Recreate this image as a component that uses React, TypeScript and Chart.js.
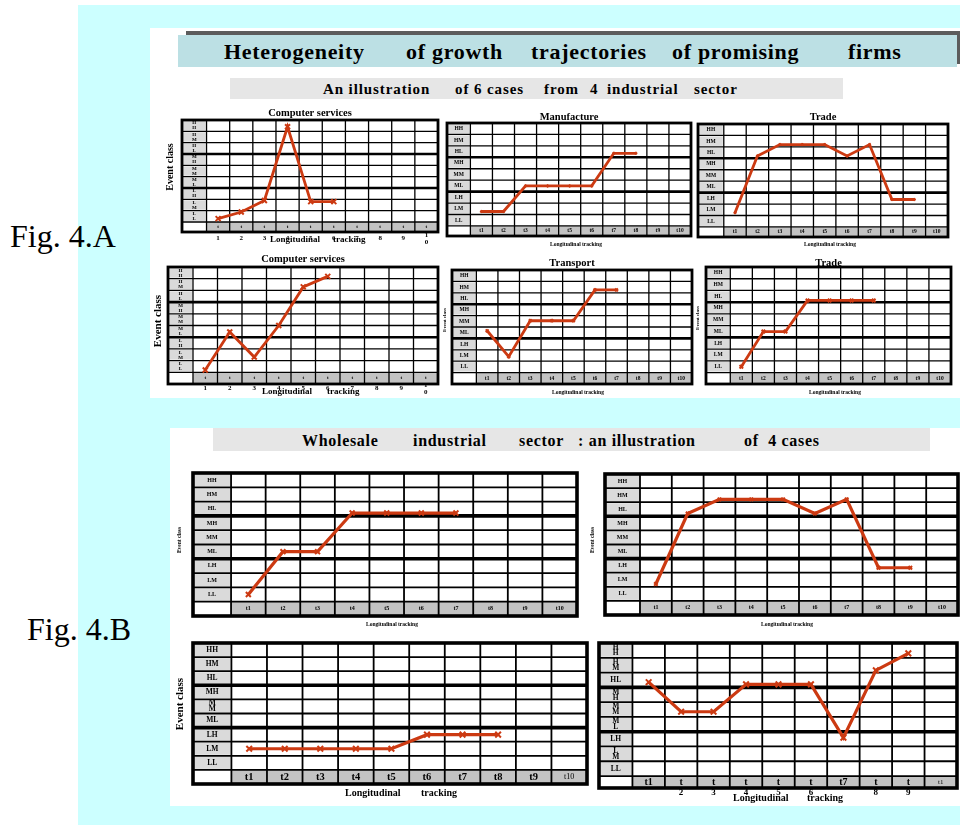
import React, { useEffect, useRef } from "react";
import { Chart, registerables } from "chart.js";
Chart.register(...registerables);

// ---------------- data ----------------
// y values: LL=1, LM=2, LH=3, ML=4, MM=5, MH=6, HL=7, HM=8, HH=9 ; x = t index
const ROW_LABELS = ["LL", "LM", "LH", "ML", "MM", "MH", "HL", "HM", "HH"];
const T_LABELS = ["t1", "t2", "t3", "t4", "t5", "t6", "t7", "t8", "t9", "t10"];
const T_DIGITS = ["1", "2", "3", "4", "5", "6", "7", "8", "9", "10"];

const COMPUTER_SERVICES_A = [0.8, 1.38, 2.4, 8.9, 2.3, 2.3];
const MANUFACTURE = [1.76, 1.76, 4, 4, 4, 4, 6.85, 6.85];
const TRADE_A = [1.74, 6.7, 7.7, 7.7, 7.7, 6.7, 7.7, 2.9, 2.9];
const COMPUTER_SERVICES_B = [0.7, 3.95, 1.8, 4.5, 7.8, 8.7];
const TRANSPORT = [4.17, 1.9, 5.05, 5.05, 5.05, 7.75, 7.75];
const TRADE_B = [1, 4, 4, 6.65, 6.65, 6.65, 6.65];
const WHOLESALE_1 = [1, 4, 4, 6.7, 6.7, 6.7, 6.7];
const WHOLESALE_2 = [1.7, 6.7, 7.7, 7.7, 7.7, 6.7, 7.7, 2.85, 2.85];
const WHOLESALE_3 = [2, 2, 2, 2, 2, 3, 3, 3];
const WHOLESALE_4 = [6.85, 4.85, 4.85, 6.7, 6.7, 6.7, 3.1, 7.65, 8.8];

// ---------------- styling / layout ----------------
const RED = "#cc3a12";
const SERIF = '"Liberation Serif", "Times New Roman", serif';
const M = { l: 34, t: 18, r: 14, b: 26 };

type TextItem = { text: string; x: number; y: number; size: number; bold?: boolean; rot?: boolean; align?: CanvasTextAlign };
type Spec = {
  key: string;
  title?: string;
  titleY?: number;
  values: number[];
  table: [number, number, number, number];
  labelRatio: number;
  bottomRatio: number;
  big: boolean;
  rowFont: number;
  stackGap?: number;
  stackRows: string[];
  colFont: number;
  splitCols: number[];
  digitY?: number;
  digitFont?: number;
  t10?: { text: string; size: number; bold: boolean };
  lineW: number;
  markR: number;
  texts: TextItem[];
};

const ALL_STACK = ROW_LABELS.slice();
const ALL_COLS = [1, 2, 3, 4, 5, 6, 7, 8, 9, 10];

const SPECS: Spec[] = [
  {
    key: "a1", title: "Computer services", titleY: 113, values: COMPUTER_SERVICES_A,
    table: [182, 120, 256, 112], labelRatio: 1.06, bottomRatio: 0.88, big: false,
    rowFont: 5, stackRows: ALL_STACK, colFont: 5, splitCols: ALL_COLS, digitY: 238, digitFont: 7,
    lineW: 2.8, markR: 3.5,
    texts: [
      { text: "Event class", x: 170, y: 167, size: 10, bold: true, rot: true },
      { text: "Longitudinal", x: 270, y: 240, size: 9, bold: true, align: "left" },
      { text: "tracking", x: 333, y: 240, size: 9, bold: true, align: "left" },
    ],
  },
  {
    key: "a2", title: "Manufacture", titleY: 117, values: MANUFACTURE,
    table: [447, 123, 244, 113], labelRatio: 1.06, bottomRatio: 0.88, big: false,
    rowFont: 5.5, stackRows: [], colFont: 5.5, splitCols: [], lineW: 2.8, markR: 1.5,
    texts: [{ text: "Longitudinal tracking", x: 576, y: 245, size: 5.5, bold: true }],
  },
  {
    key: "a3", title: "Trade", titleY: 117, values: TRADE_A,
    table: [698, 124, 250, 113], labelRatio: 1.15, bottomRatio: 0.88, big: false,
    rowFont: 5.5, stackRows: [], colFont: 5.5, splitCols: [], lineW: 2.8, markR: 1.5,
    texts: [{ text: "Longitudinal tracking", x: 830, y: 245, size: 5.5, bold: true }],
  },
  {
    key: "a4", title: "Computer services", titleY: 259, values: COMPUTER_SERVICES_B,
    table: [168, 267, 270, 117], labelRatio: 1.02, bottomRatio: 1.0, big: false,
    rowFont: 5, stackRows: ALL_STACK, colFont: 5, splitCols: ALL_COLS, digitY: 388, digitFont: 7,
    lineW: 2.8, markR: 3.5,
    texts: [
      { text: "Event class", x: 158, y: 321, size: 11, bold: true, rot: true },
      { text: "Longitudinal", x: 262, y: 392, size: 9, bold: true, align: "left" },
      { text: "tracking", x: 327, y: 392, size: 9, bold: true, align: "left" },
      { text: "Event class", x: 445, y: 320, size: 5, bold: true, rot: true },
    ],
  },
  {
    key: "a5", title: "Transport", titleY: 263, values: TRANSPORT,
    table: [452, 270, 240, 114], labelRatio: 1.13, bottomRatio: 1.0, big: false,
    rowFont: 5.5, stackRows: [], colFont: 5.5, splitCols: [], lineW: 2.8, markR: 2,
    texts: [
      { text: "Longitudinal tracking", x: 578, y: 393, size: 5.5, bold: true },
      { text: "Event class", x: 698, y: 318, size: 5, bold: true, rot: true },
    ],
  },
  {
    key: "a6", title: "Trade", titleY: 263, values: TRADE_B,
    table: [706, 267, 245, 117], labelRatio: 1.1, bottomRatio: 0.97, big: false,
    rowFont: 5.5, stackRows: [], colFont: 5.5, splitCols: [], lineW: 2.8, markR: 2.5,
    texts: [{ text: "Longitudinal tracking", x: 835, y: 393, size: 5.5, bold: true }],
  },
  {
    key: "b1", values: WHOLESALE_1,
    table: [193, 473, 384, 143], labelRatio: 1.1, bottomRatio: 1.0, big: true,
    rowFont: 6, stackRows: [], colFont: 6, splitCols: [], lineW: 3.2, markR: 3.5,
    texts: [
      { text: "Event class", x: 180, y: 540, size: 5.5, bold: true, rot: true },
      { text: "Longitudinal tracking", x: 392, y: 625, size: 5.5, bold: true },
    ],
  },
  {
    key: "b2", values: WHOLESALE_2,
    table: [605, 474, 353, 141], labelRatio: 1.1, bottomRatio: 1.0, big: true,
    rowFont: 6, stackRows: [], colFont: 6, splitCols: [], lineW: 3.2, markR: 2.5,
    texts: [
      { text: "Event class", x: 593, y: 540, size: 5.5, bold: true, rot: true },
      { text: "Longitudinal tracking", x: 787, y: 625, size: 5.5, bold: true },
    ],
  },
  {
    key: "b3", values: WHOLESALE_3,
    table: [193, 643, 394, 141], labelRatio: 1.08, bottomRatio: 1.0, big: true,
    rowFont: 7.5, stackGap: 0.4, stackRows: ["MM"], colFont: 10.5, splitCols: [],
    t10: { text: "t10", size: 8, bold: false }, lineW: 3.2, markR: 4,
    texts: [
      { text: "Event class", x: 180, y: 704, size: 11, bold: true, rot: true },
      { text: "Longitudinal", x: 345, y: 793, size: 10, bold: true, align: "left" },
      { text: "tracking", x: 421, y: 793, size: 10, bold: true, align: "left" },
    ],
  },
  {
    key: "b4", values: WHOLESALE_4,
    table: [599, 643, 358, 145], labelRatio: 1.03, bottomRatio: 0.81, big: true,
    rowFont: 7.5, stackGap: 0.4, stackRows: ["HH", "HM", "MH", "MM", "ML", "LM"], colFont: 10,
    splitCols: [2, 3, 4, 5, 6, 8, 9], digitY: 793, digitFont: 9,
    t10: { text: "t1", size: 7, bold: false }, lineW: 3.2, markR: 4,
    texts: [
      { text: "Longitudinal", x: 733, y: 798, size: 10, bold: true, align: "left" },
      { text: "tracking", x: 807, y: 798, size: 10, bold: true, align: "left" },
    ],
  },
];

function makeTablePlugin(spec: Spec, ox: number, oy: number) {
  return {
    id: "tbl_" + spec.key,
    beforeDatasetsDraw(chart: any) {
      const ctx: CanvasRenderingContext2D = chart.ctx;
      const xs = chart.scales.x;
      const ys = chart.scales.y;
      const X = (v: number) => xs.getPixelForValue(v);
      const Y = (v: number) => ys.getPixelForValue(v);
      const xL = X(xs.min), xR = X(xs.max), yT = Y(ys.max), yB = Y(ys.min);
      const lw = spec.big ? 1.8 : 1.3;
      const thick = spec.big ? 3.6 : 2.6;
      const border = spec.big ? 3.6 : 2.8;
      ctx.save();
      ctx.fillStyle = "#ffffff";
      ctx.fillRect(xL, yT, xR - xL, yB - yT);
      ctx.fillStyle = "#dadada";
      for (let k = 1; k <= ROW_LABELS.length; k++) {
        const a = Y(k + 0.5), b = Y(k - 0.5);
        ctx.fillRect(xL + 1, a + 1, X(0.5) - xL - 2, b - a - 2);
      }
      ctx.fillStyle = "#c3c3c3";
      for (let i = 1; i <= T_LABELS.length; i++) {
        const a = X(i - 0.5), b = X(i + 0.5);
        ctx.fillRect(a, Y(0.5), b - a, yB - Y(0.5));
      }
      ctx.strokeStyle = "#000";
      for (let k = 0; k < ROW_LABELS.length; k++) {
        const v = k + 0.5;
        ctx.lineWidth = k === 3 || k === 6 ? thick : lw;
        ctx.beginPath();
        ctx.moveTo(xL, Y(v));
        ctx.lineTo(xR, Y(v));
        ctx.stroke();
      }
      ctx.lineWidth = lw;
      for (let i = 0; i < T_LABELS.length; i++) {
        const v = i + 0.5;
        ctx.beginPath();
        ctx.moveTo(X(v), yT);
        ctx.lineTo(X(v), yB);
        ctx.stroke();
      }
      ctx.lineWidth = border;
      ctx.strokeRect(xL, yT, xR - xL, yB - yT);

      ctx.fillStyle = "#000";
      ctx.textAlign = "center";
      ctx.textBaseline = "middle";
      const lx = (xL + X(0.5)) / 2;
      ctx.font = `bold ${spec.rowFont}px ${SERIF}`;
      ROW_LABELS.forEach((lab, idx) => {
        const cy = Y(idx + 1);
        if (spec.stackRows.includes(lab)) {
          const d = spec.rowFont * (spec.stackGap || 0.5);
          ctx.fillText(lab[0], lx, cy - d);
          ctx.fillText(lab[1], lx, cy + d);
        } else {
          ctx.fillText(lab, lx, cy);
        }
      });
      const by = (Y(0.5) + yB) / 2;
      T_LABELS.forEach((lab, idx) => {
        const i = idx + 1;
        const cx = X(i);
        if (i === 10 && spec.t10) {
          ctx.font = `${spec.t10.bold ? "bold " : ""}${spec.t10.size}px ${SERIF}`;
          ctx.fillText(spec.t10.text, cx, by);
        } else if (spec.splitCols.includes(i)) {
          ctx.font = `bold ${spec.colFont}px ${SERIF}`;
          ctx.fillText("t", cx, by);
          ctx.font = `bold ${spec.digitFont}px ${SERIF}`;
          const dg = T_DIGITS[idx];
          const dy = (spec.digitY || 0) - oy;
          if (dg.length > 1) {
            ctx.fillText(dg[0], cx, dy - 3);
            ctx.fillText(dg[1], cx, dy + 4);
          } else {
            ctx.fillText(dg, cx, dy);
          }
        } else {
          ctx.font = `bold ${spec.colFont}px ${SERIF}`;
          ctx.fillText(lab, cx, by);
        }
      });
      if (spec.title) {
        ctx.font = `bold 10.5px ${SERIF}`;
        ctx.fillText(spec.title, (xL + xR) / 2, (spec.titleY || 0) - oy);
      }
      spec.texts.forEach((t) => {
        ctx.font = `${t.bold ? "bold " : ""}${t.size}px ${SERIF}`;
        ctx.textAlign = t.align || "center";
        if (t.rot) {
          ctx.save();
          ctx.translate(t.x - ox, t.y - oy);
          ctx.rotate(-Math.PI / 2);
          ctx.textAlign = "center";
          ctx.fillText(t.text, 0, 0);
          ctx.restore();
        } else {
          ctx.fillText(t.text, t.x - ox, t.y - oy);
        }
      });
      ctx.restore();
    },
  };
}

function GridChart({ spec }: { spec: Spec }) {
  const ref = useRef<HTMLCanvasElement>(null);
  const [tx, ty, tw, th] = spec.table;
  const cx = tx - M.l;
  const cy = ty - M.t;
  const W = tw + M.l + M.r;
  const H = th + M.t + M.b;
  useEffect(() => {
    const chart = new Chart(ref.current as HTMLCanvasElement, {
      type: "line",
      data: {
        datasets: [
          {
            data: spec.values.map((v, i) => ({ x: i + 1, y: v })),
            borderColor: RED,
            backgroundColor: RED,
            borderWidth: spec.lineW,
            pointStyle: "crossRot",
            pointRadius: spec.markR,
            pointBorderWidth: 2,
            pointBorderColor: RED,
            tension: 0,
          },
        ],
      },
      options: {
        animation: false,
        responsive: false,
        maintainAspectRatio: false,
        events: [],
        layout: { padding: { left: M.l, top: M.t, right: M.r, bottom: M.b } },
        scales: {
          x: { type: "linear", display: false, min: 0.5 - spec.labelRatio, max: 10.5 },
          y: { type: "linear", display: false, min: 0.5 - spec.bottomRatio, max: 9.5 },
        },
        plugins: { legend: { display: false }, tooltip: { enabled: false }, title: { display: false } },
      },
      plugins: [makeTablePlugin(spec, cx, cy)],
    } as any);
    return () => chart.destroy();
  }, [spec]);
  return (
    <canvas
      ref={ref}
      width={W}
      height={H}
      style={{ position: "absolute", left: cx, top: cy, width: W, height: H }}
    />
  );
}

function Word({ x, y, size, text, ls = 0, bold = true }: { x: number; y: number; size: number; text: string; ls?: number; bold?: boolean }) {
  return (
    <div
      style={{
        position: "absolute",
        left: x,
        top: y - size / 2,
        fontSize: size,
        lineHeight: `${size}px`,
        fontWeight: bold ? 700 : 400,
        letterSpacing: ls,
        whiteSpace: "pre",
        color: "#000",
        fontFamily: SERIF,
      }}
    >
      {text}
    </div>
  );
}

const TITLE_WORDS: [string, number][] = [
  ["Heterogeneity", 224],
  ["of growth", 406],
  ["trajectories", 531],
  ["of promising", 672],
  ["firms", 848],
];
const SUB_WORDS: [string, number][] = [
  ["An illustration", 323],
  ["of 6 cases", 455],
  ["from", 544],
  ["4", 590],
  ["industrial", 607],
  ["sector", 694],
];
const WHOLESALE_WORDS: [string, number][] = [
  ["Wholesale", 302],
  ["industrial", 413],
  ["sector", 519],
  [": an illustration", 578],
  ["of  4 cases", 744],
];

export default function App() {
  return (
    <div
      style={{
        position: "absolute",
        left: 0,
        top: 0,
        width: 960,
        height: 825,
        overflow: "hidden",
        background: "#ffffff",
        fontFamily: SERIF,
      }}
    >
      <div style={{ position: "absolute", left: 78, top: 5, width: 882, height: 820, background: "#ccffff" }} />
      <div style={{ position: "absolute", left: 150, top: 28, width: 810, height: 370, background: "#ffffff" }} />
      <div style={{ position: "absolute", left: 170, top: 428, width: 790, height: 378, background: "#ffffff" }} />

      <div style={{ position: "absolute", left: 186, top: 31, width: 776, height: 33, background: "#5c5c5c" }} />
      <div style={{ position: "absolute", left: 178, top: 35, width: 779, height: 32, background: "#bce0e4" }} />
      {TITLE_WORDS.map(([t, x]) => (
        <Word key={t} x={x} y={52} size={22} ls={0.7} text={t} />
      ))}

      <div style={{ position: "absolute", left: 230, top: 78, width: 613, height: 21, background: "#e6e6e6" }} />
      {SUB_WORDS.map(([t, x]) => (
        <Word key={t} x={x} y={89} size={15} ls={0.9} text={t} />
      ))}

      <div style={{ position: "absolute", left: 213, top: 428, width: 717, height: 23, background: "#e6e6e6" }} />
      {WHOLESALE_WORDS.map(([t, x]) => (
        <Word key={t} x={x} y={441} size={16} ls={0.7} text={t} />
      ))}

      <div style={{ position: "absolute", left: 10, top: 220, fontSize: 32, lineHeight: "32px", fontFamily: SERIF, whiteSpace: "pre" }}>
        Fig. 4.A
      </div>
      <div style={{ position: "absolute", left: 27, top: 613, fontSize: 32, lineHeight: "32px", fontFamily: SERIF, whiteSpace: "pre" }}>
        Fig. 4.B
      </div>

      {SPECS.map((s) => (
        <GridChart key={s.key} spec={s} />
      ))}
    </div>
  );
}
